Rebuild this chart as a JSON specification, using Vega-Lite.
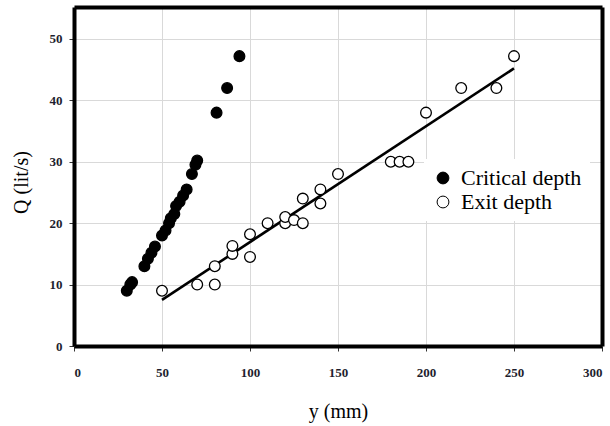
{
  "$schema": "https://vega.github.io/schema/vega-lite/v6.json",
  "autosize": "none",
  "width": 528,
  "height": 339,
  "padding": {"left": 74, "top": 7, "right": 8, "bottom": 80},
  "background": "white",
  "config": {
    "font": "Liberation Serif",
    "view": {"stroke": null},
    "axis": {
      "gridColor": "#d9d9d9",
      "gridWidth": 1,
      "tickColor": "#333",
      "tickSize": 5,
      "labelFont": "Liberation Serif",
      "labelFontWeight": "bold",
      "labelFontSize": 13,
      "labelColor": "#1e1e2e",
      "titleFont": "Liberation Serif",
      "titleFontWeight": "normal",
      "titleFontSize": 20,
      "titleColor": "black"
    }
  },
  "datasets": {
    "points": [
      {"series": "Critical depth", "y_mm": 30, "Q": 9},
      {"series": "Critical depth", "y_mm": 32, "Q": 10},
      {"series": "Critical depth", "y_mm": 33, "Q": 10.4},
      {"series": "Critical depth", "y_mm": 40, "Q": 13},
      {"series": "Critical depth", "y_mm": 42, "Q": 14.2},
      {"series": "Critical depth", "y_mm": 44, "Q": 15.2},
      {"series": "Critical depth", "y_mm": 46, "Q": 16.2},
      {"series": "Critical depth", "y_mm": 50, "Q": 18},
      {"series": "Critical depth", "y_mm": 52, "Q": 18.8},
      {"series": "Critical depth", "y_mm": 54, "Q": 20},
      {"series": "Critical depth", "y_mm": 55, "Q": 20.8},
      {"series": "Critical depth", "y_mm": 57, "Q": 21.5},
      {"series": "Critical depth", "y_mm": 58, "Q": 22.8},
      {"series": "Critical depth", "y_mm": 60, "Q": 23.5},
      {"series": "Critical depth", "y_mm": 62, "Q": 24.5},
      {"series": "Critical depth", "y_mm": 64, "Q": 25.5},
      {"series": "Critical depth", "y_mm": 67, "Q": 28},
      {"series": "Critical depth", "y_mm": 69, "Q": 29.5},
      {"series": "Critical depth", "y_mm": 70, "Q": 30.2},
      {"series": "Critical depth", "y_mm": 81, "Q": 38},
      {"series": "Critical depth", "y_mm": 87, "Q": 42},
      {"series": "Critical depth", "y_mm": 94, "Q": 47.2},
      {"series": "Exit depth", "y_mm": 50, "Q": 9},
      {"series": "Exit depth", "y_mm": 70, "Q": 10},
      {"series": "Exit depth", "y_mm": 80, "Q": 10},
      {"series": "Exit depth", "y_mm": 80, "Q": 13},
      {"series": "Exit depth", "y_mm": 90, "Q": 15},
      {"series": "Exit depth", "y_mm": 90, "Q": 16.3},
      {"series": "Exit depth", "y_mm": 100, "Q": 14.5},
      {"series": "Exit depth", "y_mm": 100, "Q": 18.2},
      {"series": "Exit depth", "y_mm": 110, "Q": 20},
      {"series": "Exit depth", "y_mm": 120, "Q": 20},
      {"series": "Exit depth", "y_mm": 120, "Q": 21},
      {"series": "Exit depth", "y_mm": 125, "Q": 20.5},
      {"series": "Exit depth", "y_mm": 130, "Q": 20},
      {"series": "Exit depth", "y_mm": 130, "Q": 24},
      {"series": "Exit depth", "y_mm": 140, "Q": 23.2},
      {"series": "Exit depth", "y_mm": 140, "Q": 25.5},
      {"series": "Exit depth", "y_mm": 150, "Q": 28},
      {"series": "Exit depth", "y_mm": 180, "Q": 30},
      {"series": "Exit depth", "y_mm": 185, "Q": 30},
      {"series": "Exit depth", "y_mm": 190, "Q": 30},
      {"series": "Exit depth", "y_mm": 200, "Q": 38},
      {"series": "Exit depth", "y_mm": 220, "Q": 42},
      {"series": "Exit depth", "y_mm": 240, "Q": 42},
      {"series": "Exit depth", "y_mm": 250, "Q": 47.2}
    ],
    "trend": [
      {"y_mm": 50, "Q": 7.5},
      {"y_mm": 250, "Q": 45.2}
    ]
  },
  "resolve": {"axis": {"x": "independent", "y": "independent"}},
  "layer": [
    {
      "data": {"name": "trend"},
      "mark": {"type": "line", "color": "black", "strokeWidth": 2.6},
      "encoding": {
        "x": {
          "field": "y_mm",
          "type": "quantitative",
          "title": "y (mm)",
          "scale": {"domain": [0, 300], "nice": false},
          "axis": {"orient": "bottom", "values": [0, 50, 100, 150, 200, 250, 300], "labelPadding": 15, "titlePadding": 22, "domainColor": "black", "domainWidth": 4}
        },
        "y": {
          "field": "Q",
          "type": "quantitative",
          "title": "Q (lit/s)",
          "scale": {"domain": [0, 55.2], "nice": false},
          "axis": {"orient": "left", "values": [0, 10, 20, 30, 40, 50], "labelPadding": 7, "titlePadding": 18, "titleY": 175, "domainColor": "black", "domainWidth": 4}
        }
      }
    },
    {
      "data": {"name": "points"},
      "mark": {"type": "point", "shape": "circle", "size": 115, "stroke": "black", "strokeWidth": 1.3, "opacity": 1, "fillOpacity": 1},
      "encoding": {
        "x": {
          "field": "y_mm",
          "type": "quantitative",
          "axis": {"orient": "top", "title": null, "labels": false, "ticks": false, "grid": false, "domainColor": "black", "domainWidth": 4}
        },
        "y": {
          "field": "Q",
          "type": "quantitative",
          "axis": {"orient": "right", "title": null, "labels": false, "ticks": false, "grid": false, "domainColor": "black", "domainWidth": 4}
        },
        "fill": {
          "field": "series",
          "type": "nominal",
          "scale": {"domain": ["Critical depth", "Exit depth"], "range": ["black", "white"]},
          "legend": {
            "title": null,
            "orient": "none",
            "legendX": 350,
            "legendY": 152,
            "fillColor": "white",
            "padding": 8,
            "labelFont": "Liberation Serif",
            "labelFontSize": 22,
            "labelColor": "black",
            "symbolType": "circle",
            "symbolSize": 140,
            "symbolStrokeColor": "black",
            "symbolStrokeWidth": 1,
            "rowPadding": 2,
            "labelOffset": 7
          }
        }
      }
    }
  ]
}
